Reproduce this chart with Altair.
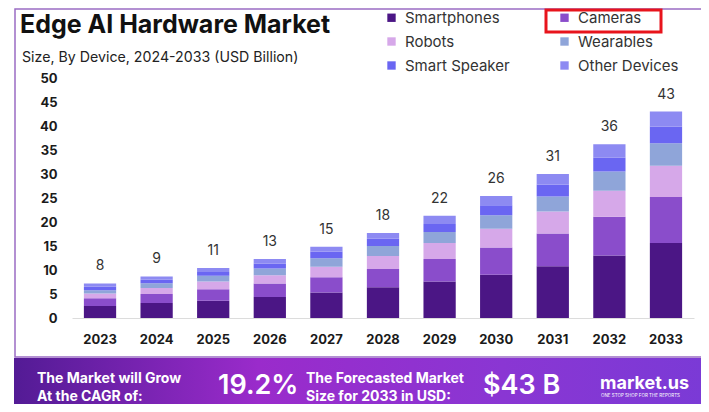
import altair as alt
import pandas as pd

# ---------------- data ----------------
years = ["2023", "2024", "2025", "2026", "2027", "2028", "2029", "2030", "2031", "2032", "2033"]
devices = ["Smartphones", "Cameras", "Robots", "Wearables", "Smart Speaker", "Other Devices"]
smartphones = [2.5, 3.1, 3.6, 4.4, 5.3, 6.4, 7.6, 9.0, 10.8, 13.0, 15.6]
cameras = [1.6, 1.9, 2.4, 2.8, 3.2, 3.8, 4.7, 5.7, 6.8, 8.1, 9.6]
robots = [1.0, 1.25, 1.6, 1.7, 2.2, 2.7, 3.3, 3.9, 4.6, 5.4, 6.5]
wearables = [0.7, 1.0, 1.2, 1.4, 1.75, 2.1, 2.3, 2.8, 3.1, 4.0, 4.7]
smart_speaker = [0.7, 0.7, 0.8, 1.0, 1.4, 1.5, 1.7, 2.1, 2.5, 2.9, 3.5]
other_devices = [0.7, 0.7, 0.8, 1.0, 1.0, 1.2, 1.7, 1.9, 2.2, 2.8, 3.1]
total_labels = ["8", "9", "11", "13", "15", "18", "22", "26", "31", "36", "43"]
y_ticks = [0, 5, 10, 15, 20, 25, 30, 35, 40, 45, 50]
colors = ["#4b1685", "#8a4dcb", "#d6a8e9", "#8fa5d9", "#6a66f2", "#8d8af2"]

series = [smartphones, cameras, robots, wearables, smart_speaker, other_devices]
rows = []
for i, (dev, vals) in enumerate(zip(devices, series)):
    for y, v in zip(years, vals):
        rows.append({"year": y, "device": dev, "value": v, "order": i})
df = pd.DataFrame(rows)

totals = pd.DataFrame({
    "year": years,
    "total": [sum(s[k] for s in series) for k in range(len(years))],
    "label": total_labels,
})

FONT = "Inter"

x_scale = alt.Scale(paddingInner=0.43, paddingOuter=0.21)
x_axis = alt.Axis(title=None, labelAngle=0, labelFont=FONT, labelFontWeight="bold",
                  labelFontSize=13, labelColor="#1a1a1a", labelPadding=15,
                  ticks=False, domainColor="#dcdcdc", domainWidth=1, grid=False)
y_scale = alt.Scale(domain=[0, 50], nice=False)
y_axis = alt.Axis(title=None, values=y_ticks, labelFont=FONT,
                  labelFontWeight="bold", labelFontSize=13, labelColor="#1a1a1a",
                  labelPadding=15, ticks=False, domain=False, grid=False,
                  labelOverlap=False, tickCount=11)

bars = alt.Chart(df).mark_bar().encode(
    x=alt.X("year:O", sort=years, scale=x_scale, axis=x_axis),
    y=alt.Y("value:Q", stack="zero", scale=y_scale, axis=y_axis),
    color=alt.Color(
        "device:N",
        scale=alt.Scale(domain=devices, range=colors),
        legend=alt.Legend(
            title=None, orient="none", legendX=312, legendY=-68, columns=2,
            direction="horizontal",
            symbolType="square", symbolSize=70, symbolStrokeWidth=0,
            labelFont=FONT, labelFontSize=15, labelColor="#333333",
            labelOffset=6, rowPadding=8, columnPadding=47, padding=0,
        ),
    ),
    order=alt.Order("order:Q", sort="ascending"),
)

labels = alt.Chart(totals).mark_text(
    font=FONT, fontSize=14, color="#333333", baseline="middle", dy=-17
).encode(
    x=alt.X("year:O", sort=years, scale=x_scale, axis=x_axis),
    y=alt.Y("total:Q", scale=y_scale, axis=y_axis),
    text="label:N",
)

one = pd.DataFrame({"a": [0]})


def txt(s, x, y, size, weight="normal", color="#111111", baseline="alphabetic", align="left", font=FONT):
    return alt.Chart(one).mark_text(
        font=font, fontSize=size, fontWeight=weight, color=color,
        baseline=baseline, align=align,
    ).encode(x=alt.value(x), y=alt.value(y), text=alt.value(s))


frame = alt.Chart(one).mark_rect(
    fillOpacity=0, stroke="#9a6cc4", strokeWidth=1.5
).encode(x=alt.value(-57), x2=alt.value(635), y=alt.value(-69), y2=alt.value(279))

banner = alt.Chart(one).mark_rect(
    color=alt.LinearGradient(
        gradient="linear", x1=0, x2=1, y1=0, y2=0,
        stops=[alt.GradientStop(offset=0, color="#531b95"),
               alt.GradientStop(offset=0.35, color="#9a2bcb"),
               alt.GradientStop(offset=0.7, color="#8a36d3"),
               alt.GradientStop(offset=1, color="#7a3ad6")],
    )
).encode(x=alt.value(-58), x2=alt.value(640), y=alt.value(280), y2=alt.value(340))

redbox = alt.Chart(one).mark_rect(
    fillOpacity=0, stroke="#e8141c", strokeWidth=3
).encode(x=alt.value(474), x2=alt.value(589), y=alt.value(-68), y2=alt.value(-46))

annotations = [
    frame,
    txt("Edge AI Hardware Market", -52, -45, 25, "bold"),
    txt("Size, By Device, 2024-2033 (USD Billion)", -50, -16, 14.2, "normal", "#222222"),
    banner,
    txt("The Market will Grow", -35, 305, 14, "bold", "white"),
    txt("At the CAGR of:", -35, 323, 14, "bold", "white"),
    txt("19.2%", 146, 316, 27, 600, "white"),
    txt("The Forecasted Market", 234, 305, 14, "bold", "white"),
    txt("Size for 2033 in USD:", 234, 323, 14, "bold", "white"),
    txt("$43 B", 411, 316, 27, 600, "white"),
    txt("market.us", 528, 311, 18, "bold", "white"),
    txt("ONE STOP SHOP FOR THE REPORTS", 529, 319, 4.5, "normal", "white"),
    redbox,
]

chart = alt.layer(*annotations[:1], bars, labels, *annotations[1:]).properties(
    width=622, height=240,
    autosize=alt.AutoSizeParams(type="none"),
    padding={"left": 64, "top": 70, "right": 7, "bottom": 86},
    background="white",
).configure_view(strokeWidth=0)

chart.save("out.html", embed_options={"renderer": "svg", "actions": False})
